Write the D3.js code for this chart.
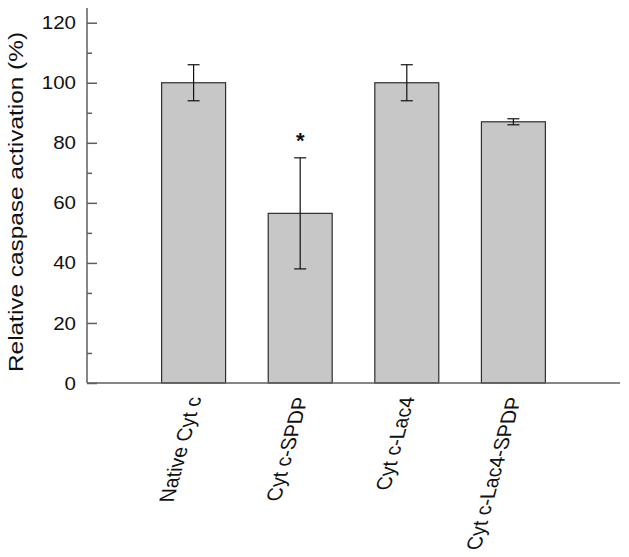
<!DOCTYPE html>
<html>
<head>
<meta charset="utf-8">
<script src="https://cdn.jsdelivr.net/npm/d3@7"></script>
<style>
  html, body { margin: 0; padding: 0; background: #fff; }
  svg { display: block; font-family: "Liberation Sans", Arial, sans-serif; }
</style>
</head>
<body>
<svg id="chart" width="629" height="557"></svg>
<script>
// ---- data ----
const categories = ["Native Cyt c", "Cyt c-SPDP", "Cyt c-Lac4", "Cyt c-Lac4-SPDP"];
const values = [100, 56.5, 100, 87];
const errors = [6, 18.5, 6, 1];
const significant = [false, true, false, false];
const yTicks = [0, 20, 40, 60, 80, 100, 120];
const yMinorTicks = [10, 30, 50, 70, 90, 110];
const yTitle = "Relative caspase activation (%)";

// ---- layout ----
const svg = d3.select("#chart");
const x0 = 87, x1 = 620, yTop = 22.7, yBot = 383;

const x = d3.scaleBand().domain(categories).range([x0, x1])
  .paddingInner(0.4).paddingOuter(0.7);
const y = d3.scaleLinear().domain([0, 120]).range([yBot, yTop]);

const axisColor = "#5e5e5e";

// bars
svg.append("g").selectAll("rect").data(categories).join("rect")
  .attr("x", d => x(d))
  .attr("y", (d, i) => y(values[i]))
  .attr("width", x.bandwidth())
  .attr("height", (d, i) => y(0) - y(values[i]))
  .attr("fill", "#c7c7c7")
  .attr("stroke", "#2e2e2e")
  .attr("stroke-width", 1.2);

// error bars
const eb = svg.append("g").attr("stroke", "#111").attr("stroke-width", 1.2);
categories.forEach((c, i) => {
  const cx = x(c) + x.bandwidth() / 2;
  const hi = y(values[i] + errors[i]), lo = y(values[i] - errors[i]);
  eb.append("line").attr("x1", cx).attr("x2", cx).attr("y1", hi).attr("y2", lo);
  eb.append("line").attr("x1", cx - 6).attr("x2", cx + 6).attr("y1", hi).attr("y2", hi);
  eb.append("line").attr("x1", cx - 6).attr("x2", cx + 6).attr("y1", lo).attr("y2", lo);
  if (significant[i]) {
    svg.append("text").attr("x", cx).attr("y", hi - 10)
      .attr("text-anchor", "middle").attr("font-size", 22).attr("font-weight", "bold")
      .attr("fill", "#111").text("*");
  }
});

// y axis
const yAxis = d3.axisLeft(y).tickValues(yTicks).tickSizeInner(-10).tickSizeOuter(0).tickPadding(11);
const gy = svg.append("g").attr("transform", `translate(${x0},0)`).call(yAxis);
gy.select(".domain").attr("stroke", axisColor).attr("stroke-width", 1.5)
  .attr("d", `M0,${yBot}V8`);
gy.selectAll(".tick line").attr("stroke", axisColor).attr("stroke-width", 1.5);
gy.selectAll(".tick text").attr("font-size", 19).attr("fill", "#111")
  .attr("font-family", "Liberation Sans, Arial, sans-serif")
  .each(function () {
    const w = this.getComputedTextLength();
    d3.select(this).attr("textLength", w * 1.08).attr("lengthAdjust", "spacingAndGlyphs");
  });
const yMinor = d3.axisLeft(y).tickValues(yMinorTicks).tickSizeInner(-5).tickSizeOuter(0).tickFormat("");
const gym = svg.append("g").attr("transform", `translate(${x0},0)`).call(yMinor);
gym.select(".domain").remove();
gym.selectAll(".tick line").attr("stroke", axisColor).attr("stroke-width", 1.5);

// x axis line
svg.append("line").attr("x1", x0).attr("x2", x1).attr("y1", yBot).attr("y2", yBot)
  .attr("stroke", axisColor).attr("stroke-width", 1.5);

// x labels (slanted, sheared text)
svg.append("g").selectAll("text").data(categories).join("text")
  .attr("transform", d => `matrix(0.25,-0.93,1,0,${x(d) + x.bandwidth() / 2 + 8},397)`)
  .attr("text-anchor", "end")
  .attr("font-size", 21)
  .attr("fill", "#111")
  .text(d => d);

// y title
svg.append("text")
  .attr("transform", `translate(22.7,202) rotate(-90)`)
  .attr("text-anchor", "middle")
  .attr("font-size", 21)
  .attr("fill", "#111")
  .attr("textLength", 340)
  .attr("lengthAdjust", "spacingAndGlyphs")
  .text(yTitle);
</script>
</body>
</html>
